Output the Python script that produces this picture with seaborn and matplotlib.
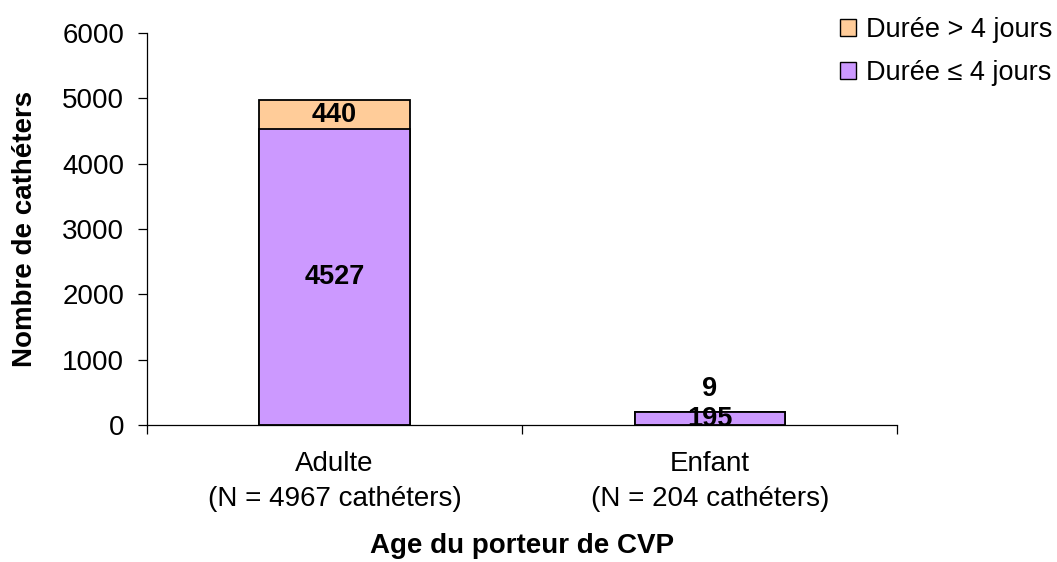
import pandas as pd
import numpy as np
import matplotlib.pyplot as plt
import seaborn as sns
from matplotlib.patches import Patch

sns.set_style("ticks")
plt.rcParams['font.family'] = ['Liberation Sans', 'DejaVu Sans']
plt.rcParams['text.color'] = 'black'
plt.rcParams['xtick.color'] = 'black'
plt.rcParams['ytick.color'] = 'black'
plt.rcParams['axes.labelcolor'] = 'black'

categories = ["Adulte\n(N = 4967 cathéters)", "Enfant\n(N = 204 cathéters)"]
short_le4 = [4527, 195]
long_gt4 = [440, 9]
series_names = ["Durée > 4 jours", "Durée ≤ 4 jours"]
col_long = "#FFCC99"
col_short = "#CC99FF"

df = pd.DataFrame({"cat": categories, "le4": short_le4, "gt4": long_gt4})
df["total"] = df["le4"] + df["gt4"]

fs = 20

fig = plt.figure(figsize=(10.57, 5.62), dpi=100)
ax = fig.add_axes([0.139, 0.2438, 0.71, 0.6975])

sns.barplot(data=df, x="cat", y="total", color=col_long, width=0.4,
            edgecolor="black", linewidth=1.3, saturation=1, ax=ax)
sns.barplot(data=df, x="cat", y="le4", color=col_short, width=0.4,
            edgecolor="black", linewidth=1.3, saturation=1, ax=ax)

# value labels
for i, row in df.iterrows():
    ax.text(i, row["le4"] / 2, str(row["le4"]), ha="center", va="center",
            fontsize=19.5, fontweight="bold")
    if row["gt4"] > 100:
        ax.text(i, row["le4"] + row["gt4"] / 2, str(row["gt4"]), ha="center",
                va="center", fontsize=19.5, fontweight="bold")
    else:
        ax.text(i, row["total"] + 340, str(row["gt4"]), ha="center",
                va="center", fontsize=19.5, fontweight="bold")

ax.set_xlim(-0.5, 1.5)
ax.set_ylim(0, 6000)
ax.set_yticks(np.arange(0, 6001, 1000))
ax.set_xticks([-0.5, 0.5, 1.5], minor=False)
ax.set_xticklabels(["", "", ""])
ax.set_xticks([0, 1], minor=True)
ax.set_xticklabels(categories, minor=True, fontsize=fs)
ax.tick_params(axis="x", which="minor", length=0, pad=19)
ax.tick_params(axis="x", which="major", length=6.5, width=0.9, direction="out")
ax.tick_params(axis="y", labelsize=fs, length=6.5, width=0.9, pad=10, direction="out")
for t in ax.get_xticklabels(minor=True):
    t.set_linespacing(1.45)

ax.set_xlabel("Age du porteur de CVP", fontsize=fs, fontweight="bold", labelpad=15)
ax.set_ylabel("Nombre de cathéters", fontsize=fs, fontweight="bold", labelpad=17)

sns.despine(ax=ax)
for s in ["left", "bottom"]:
    ax.spines[s].set_linewidth(0.9)
    ax.spines[s].set_color("black")

handles = [Patch(facecolor=col_long, edgecolor="black", label=series_names[0]),
           Patch(facecolor=col_short, edgecolor="black", label=series_names[1])]
fig.legend(handles=handles, loc="upper left", bbox_to_anchor=(0.7947, 0.969),
           frameon=False, fontsize=19.5, handlelength=0.6, handleheight=0.6,
           handletextpad=0.35, labelspacing=0.6, borderpad=0, borderaxespad=0)

fig.savefig("out.png", dpi=100)
